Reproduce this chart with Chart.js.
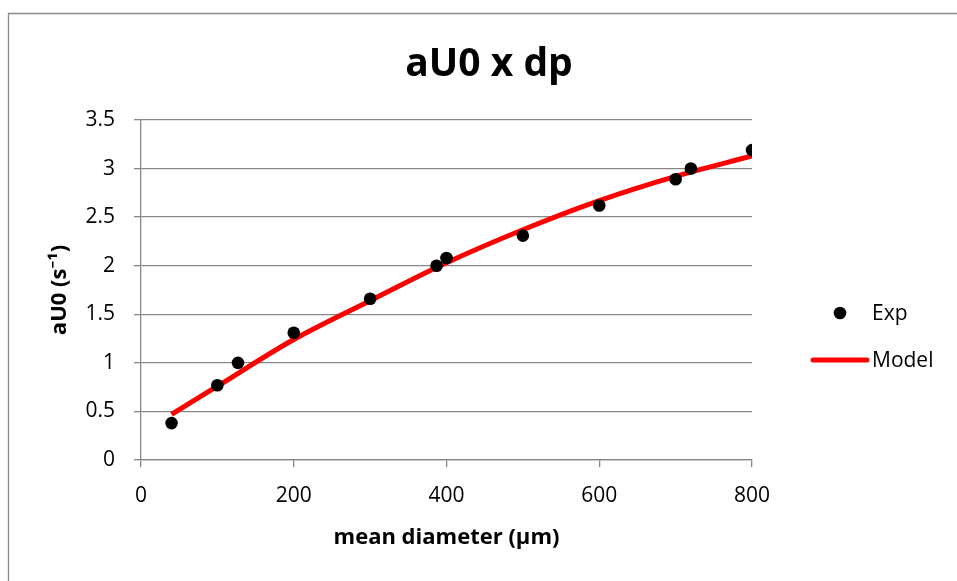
<!DOCTYPE html>
<html>
<head>
<meta charset="utf-8">
<script src="https://cdn.jsdelivr.net/npm/chart.js@4/dist/chart.umd.min.js"></script>
<style>
  html, body { margin: 0; padding: 0; background: #fff; overflow: hidden; }
  #wrap { width: 957px; height: 581px; position: relative; }
</style>
</head>
<body>
<div id="wrap"><canvas id="c"></canvas></div>
<script>
// Measured aU0 against mean particle diameter, plus the fitted model curve
const expDiameter = [40, 100, 127, 200, 300, 387, 400, 500, 600, 700, 720, 800];
const expAU0      = [0.38, 0.77, 1.00, 1.31, 1.66, 2.00, 2.08, 2.31, 2.62, 2.89, 3.00, 3.19];

const modelDiameter = [40, 100, 200, 300, 400, 500, 600, 700, 800];
const modelAU0      = [0.47, 0.76, 1.24, 1.64, 2.03, 2.37, 2.67, 2.92, 3.13];

const xTicks = [0, 200, 400, 600, 800];
const yTicks = [0, 0.5, 1, 1.5, 2, 2.5, 3, 3.5];

const chartTitle = 'aU0 x dp';
const xTitle = 'mean diameter (\u00b5m)';
const yTitle = 'aU0 (s\u207b\u00b9)';

const FONT = "'Open Sans', 'Noto Sans', sans-serif";
const GRID = '#878787';

const toPoints = (xs, ys) => xs.map((x, i) => ({ x: x, y: ys[i] }));
const plain = (v) => String(v);

// Frame, title and legend drawn around the plot
const decorations = {
  id: 'decorations',
  beforeDraw(chart) {
    const ctx = chart.ctx;
    ctx.save();
    ctx.fillStyle = '#ffffff';
    ctx.fillRect(0, 0, chart.width, chart.height);
    ctx.strokeStyle = '#8a8a8a';
    ctx.lineWidth = 1.3;
    ctx.beginPath();
    ctx.moveTo(8.5, chart.height);
    ctx.lineTo(8.5, 13.5);
    ctx.lineTo(chart.width, 13.5);
    ctx.stroke();
    ctx.restore();
  },
  afterDraw(chart) {
    const ctx = chart.ctx;
    ctx.save();
    ctx.fillStyle = '#000';
    ctx.font = "bold 39px " + FONT;
    ctx.textAlign = 'center';
    ctx.textBaseline = 'alphabetic';
    ctx.fillText(chartTitle, 489, 76);

    // legend
    ctx.font = "21px " + FONT;
    ctx.textAlign = 'left';
    ctx.textBaseline = 'middle';
    const rows = [313, 360];
    chart.data.datasets.forEach((ds, i) => {
      const y = rows[i];
      if (ds.showLine === false) {
        ctx.beginPath();
        ctx.fillStyle = ds.pointBackgroundColor;
        ctx.arc(840, y, ds.pointRadius, 0, Math.PI * 2);
        ctx.fill();
      } else {
        ctx.beginPath();
        ctx.strokeStyle = ds.borderColor;
        ctx.lineWidth = ds.borderWidth;
        ctx.lineCap = 'round';
        ctx.moveTo(813, y);
        ctx.lineTo(867, y);
        ctx.stroke();
      }
      ctx.fillStyle = '#000';
      ctx.fillText(ds.label, 872, y + 1);
    });
    ctx.restore();
  }
};

new Chart(document.getElementById('c'), {
  type: 'scatter',
  data: {
    datasets: [
      {
        label: 'Exp',
        data: toPoints(expDiameter, expAU0),
        showLine: false,
        pointRadius: 6.3,
        pointHoverRadius: 6.3,
        pointBackgroundColor: '#000000',
        pointBorderColor: '#000000',
        pointBorderWidth: 0
      },
      {
        label: 'Model',
        data: toPoints(modelDiameter, modelAU0),
        showLine: true,
        borderColor: '#ff0000',
        borderWidth: 5,
        cubicInterpolationMode: 'monotone',
        pointRadius: 0,
        pointHoverRadius: 0,
        fill: false
      }
    ]
  },
  options: {
    responsive: true,
    maintainAspectRatio: false,
    animation: false,
    events: [],
    layout: { padding: { left: 8, top: 120, right: 205, bottom: 0 } },
    plugins: {
      legend: { display: false },
      title: { display: false },
      tooltip: { enabled: false }
    },
    scales: {
      x: {
        type: 'linear',
        min: xTicks[0],
        max: xTicks[xTicks.length - 1],
        afterBuildTicks: (s) => { s.ticks = xTicks.map(v => ({ value: v })); },
        afterFit: (s) => { s.height = 121; },
        border: { color: GRID, width: 1.3 },
        grid: { drawOnChartArea: false, drawTicks: true, tickLength: 7, color: GRID, lineWidth: 1.3 },
        ticks: { color: '#000', font: { family: FONT, size: 21 }, padding: 16, maxRotation: 0, callback: plain },
        title: {
          display: true, text: xTitle, color: '#000',
          font: { family: FONT, size: 22, weight: 'bold' },
          padding: { top: 0, bottom: 30 }
        }
      },
      y: {
        type: 'linear',
        min: yTicks[0],
        max: yTicks[yTicks.length - 1],
        afterBuildTicks: (s) => { s.ticks = yTicks.map(v => ({ value: v })); },
        afterFit: (s) => { s.width = 133; },
        border: { color: GRID, width: 1.3 },
        grid: { drawOnChartArea: true, drawTicks: true, tickLength: 7, color: GRID, lineWidth: 1.3 },
        ticks: { color: '#000', font: { family: FONT, size: 21 }, padding: 19, callback: plain },
        title: {
          display: true, text: yTitle, color: '#000',
          font: { family: FONT, size: 22, weight: 'bold' },
          padding: { top: 39, bottom: 0 }
        }
      }
    }
  },
  plugins: [decorations]
});
</script>
</body>
</html>
